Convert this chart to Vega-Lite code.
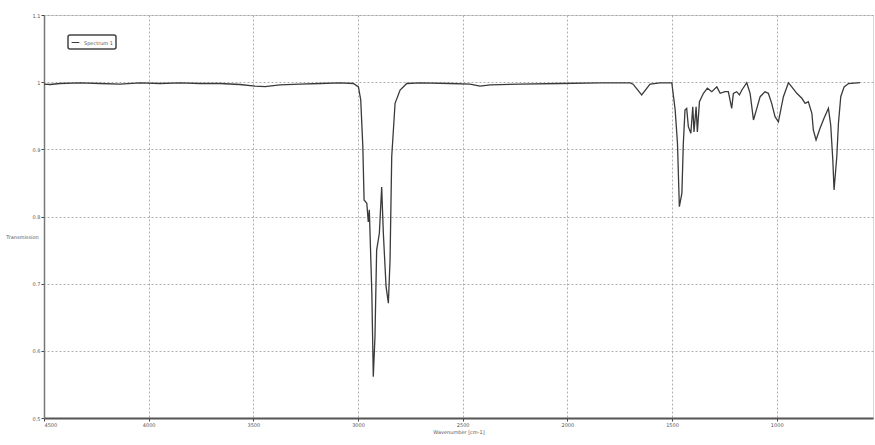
{
  "$schema": "https://vega.github.io/schema/vega-lite/v6.json",
  "width": 829,
  "height": 403,
  "autosize": {"type": "none"},
  "padding": {"left": 44, "top": 15, "right": 2, "bottom": 27},
  "background": "white",
  "config": {
    "view": {"stroke": "#d8d8d8", "strokeWidth": 1},
    "font": "DejaVu Sans"
  },
  "data": {
    "values": [
      {"wn": 4500, "t": 0.997, "s": "Spectrum 1"},
      {"wn": 4471, "t": 0.9965, "s": "Spectrum 1"},
      {"wn": 4424, "t": 0.998, "s": "Spectrum 1"},
      {"wn": 4328, "t": 0.999, "s": "Spectrum 1"},
      {"wn": 4232, "t": 0.998, "s": "Spectrum 1"},
      {"wn": 4137, "t": 0.997, "s": "Spectrum 1"},
      {"wn": 4041, "t": 0.999, "s": "Spectrum 1"},
      {"wn": 3946, "t": 0.998, "s": "Spectrum 1"},
      {"wn": 3850, "t": 0.999, "s": "Spectrum 1"},
      {"wn": 3755, "t": 0.998, "s": "Spectrum 1"},
      {"wn": 3659, "t": 0.998, "s": "Spectrum 1"},
      {"wn": 3564, "t": 0.9965, "s": "Spectrum 1"},
      {"wn": 3492, "t": 0.994, "s": "Spectrum 1"},
      {"wn": 3444, "t": 0.9935, "s": "Spectrum 1"},
      {"wn": 3373, "t": 0.996, "s": "Spectrum 1"},
      {"wn": 3277, "t": 0.997, "s": "Spectrum 1"},
      {"wn": 3181, "t": 0.998, "s": "Spectrum 1"},
      {"wn": 3086, "t": 0.999, "s": "Spectrum 1"},
      {"wn": 3022, "t": 0.998, "s": "Spectrum 1"},
      {"wn": 2998, "t": 0.993, "s": "Spectrum 1"},
      {"wn": 2987, "t": 0.9735, "s": "Spectrum 1"},
      {"wn": 2977, "t": 0.904, "s": "Spectrum 1"},
      {"wn": 2971, "t": 0.8246, "s": "Spectrum 1"},
      {"wn": 2958, "t": 0.8197, "s": "Spectrum 1"},
      {"wn": 2951, "t": 0.792, "s": "Spectrum 1"},
      {"wn": 2946, "t": 0.81, "s": "Spectrum 1"},
      {"wn": 2934, "t": 0.686, "s": "Spectrum 1"},
      {"wn": 2927, "t": 0.5615, "s": "Spectrum 1"},
      {"wn": 2919, "t": 0.621, "s": "Spectrum 1"},
      {"wn": 2911, "t": 0.75, "s": "Spectrum 1"},
      {"wn": 2898, "t": 0.775, "s": "Spectrum 1"},
      {"wn": 2887, "t": 0.844, "s": "Spectrum 1"},
      {"wn": 2879, "t": 0.775, "s": "Spectrum 1"},
      {"wn": 2866, "t": 0.6955, "s": "Spectrum 1"},
      {"wn": 2855, "t": 0.671, "s": "Spectrum 1"},
      {"wn": 2847, "t": 0.735, "s": "Spectrum 1"},
      {"wn": 2839, "t": 0.889, "s": "Spectrum 1"},
      {"wn": 2823, "t": 0.9685, "s": "Spectrum 1"},
      {"wn": 2799, "t": 0.9883, "s": "Spectrum 1"},
      {"wn": 2767, "t": 0.998, "s": "Spectrum 1"},
      {"wn": 2704, "t": 0.999, "s": "Spectrum 1"},
      {"wn": 2560, "t": 0.998, "s": "Spectrum 1"},
      {"wn": 2465, "t": 0.997, "s": "Spectrum 1"},
      {"wn": 2417, "t": 0.994, "s": "Spectrum 1"},
      {"wn": 2369, "t": 0.996, "s": "Spectrum 1"},
      {"wn": 2226, "t": 0.997, "s": "Spectrum 1"},
      {"wn": 2035, "t": 0.998, "s": "Spectrum 1"},
      {"wn": 1844, "t": 0.999, "s": "Spectrum 1"},
      {"wn": 1700, "t": 0.999, "s": "Spectrum 1"},
      {"wn": 1686, "t": 0.997, "s": "Spectrum 1"},
      {"wn": 1645, "t": 0.981, "s": "Spectrum 1"},
      {"wn": 1605, "t": 0.997, "s": "Spectrum 1"},
      {"wn": 1557, "t": 0.999, "s": "Spectrum 1"},
      {"wn": 1501, "t": 0.999, "s": "Spectrum 1"},
      {"wn": 1485, "t": 0.9586, "s": "Spectrum 1"},
      {"wn": 1474, "t": 0.909, "s": "Spectrum 1"},
      {"wn": 1465, "t": 0.8146, "s": "Spectrum 1"},
      {"wn": 1453, "t": 0.8345, "s": "Spectrum 1"},
      {"wn": 1446, "t": 0.909, "s": "Spectrum 1"},
      {"wn": 1438, "t": 0.9586, "s": "Spectrum 1"},
      {"wn": 1430, "t": 0.961, "s": "Spectrum 1"},
      {"wn": 1422, "t": 0.9337, "s": "Spectrum 1"},
      {"wn": 1410, "t": 0.924, "s": "Spectrum 1"},
      {"wn": 1401, "t": 0.9635, "s": "Spectrum 1"},
      {"wn": 1395, "t": 0.926, "s": "Spectrum 1"},
      {"wn": 1385, "t": 0.9635, "s": "Spectrum 1"},
      {"wn": 1379, "t": 0.926, "s": "Spectrum 1"},
      {"wn": 1369, "t": 0.971, "s": "Spectrum 1"},
      {"wn": 1350, "t": 0.9834, "s": "Spectrum 1"},
      {"wn": 1331, "t": 0.991, "s": "Spectrum 1"},
      {"wn": 1310, "t": 0.9858, "s": "Spectrum 1"},
      {"wn": 1286, "t": 0.993, "s": "Spectrum 1"},
      {"wn": 1270, "t": 0.9834, "s": "Spectrum 1"},
      {"wn": 1247, "t": 0.9858, "s": "Spectrum 1"},
      {"wn": 1231, "t": 0.9858, "s": "Spectrum 1"},
      {"wn": 1215, "t": 0.961, "s": "Spectrum 1"},
      {"wn": 1207, "t": 0.9834, "s": "Spectrum 1"},
      {"wn": 1191, "t": 0.9858, "s": "Spectrum 1"},
      {"wn": 1178, "t": 0.981, "s": "Spectrum 1"},
      {"wn": 1167, "t": 0.988, "s": "Spectrum 1"},
      {"wn": 1143, "t": 0.9992, "s": "Spectrum 1"},
      {"wn": 1127, "t": 0.9834, "s": "Spectrum 1"},
      {"wn": 1111, "t": 0.9437, "s": "Spectrum 1"},
      {"wn": 1095, "t": 0.961, "s": "Spectrum 1"},
      {"wn": 1079, "t": 0.9784, "s": "Spectrum 1"},
      {"wn": 1056, "t": 0.9858, "s": "Spectrum 1"},
      {"wn": 1040, "t": 0.9834, "s": "Spectrum 1"},
      {"wn": 1024, "t": 0.9685, "s": "Spectrum 1"},
      {"wn": 1008, "t": 0.9486, "s": "Spectrum 1"},
      {"wn": 992, "t": 0.941, "s": "Spectrum 1"},
      {"wn": 968, "t": 0.9784, "s": "Spectrum 1"},
      {"wn": 944, "t": 0.9992, "s": "Spectrum 1"},
      {"wn": 928, "t": 0.993, "s": "Spectrum 1"},
      {"wn": 904, "t": 0.9834, "s": "Spectrum 1"},
      {"wn": 880, "t": 0.976, "s": "Spectrum 1"},
      {"wn": 864, "t": 0.9685, "s": "Spectrum 1"},
      {"wn": 849, "t": 0.971, "s": "Spectrum 1"},
      {"wn": 832, "t": 0.9537, "s": "Spectrum 1"},
      {"wn": 825, "t": 0.9288, "s": "Spectrum 1"},
      {"wn": 812, "t": 0.9139, "s": "Spectrum 1"},
      {"wn": 793, "t": 0.9313, "s": "Spectrum 1"},
      {"wn": 774, "t": 0.9462, "s": "Spectrum 1"},
      {"wn": 753, "t": 0.961, "s": "Spectrum 1"},
      {"wn": 742, "t": 0.9362, "s": "Spectrum 1"},
      {"wn": 732, "t": 0.8841, "s": "Spectrum 1"},
      {"wn": 726, "t": 0.8395, "s": "Spectrum 1"},
      {"wn": 713, "t": 0.889, "s": "Spectrum 1"},
      {"wn": 705, "t": 0.9388, "s": "Spectrum 1"},
      {"wn": 694, "t": 0.9784, "s": "Spectrum 1"},
      {"wn": 678, "t": 0.993, "s": "Spectrum 1"},
      {"wn": 657, "t": 0.998, "s": "Spectrum 1"},
      {"wn": 602, "t": 0.9992, "s": "Spectrum 1"}
    ]
  },
  "mark": {"type": "line", "strokeWidth": 1.3, "interpolate": "linear"},
  "encoding": {
    "x": {
      "field": "wn",
      "type": "quantitative",
      "sort": null,
      "scale": {"domain": [540, 4500], "reverse": true, "nice": false, "zero": false},
      "axis": {
        "values": [4500, 4000, 3500, 3000, 2500, 2000, 1500, 1000],
        "format": "d",
        "title": "Wavenumber [cm-1]",
        "titleFontSize": 5,
        "titleFontWeight": "normal",
        "titleColor": "#555",
        "titlePadding": 2,
        "labelFontSize": 5,
        "labelColor": "#555",
        "labelPadding": 1,
        "tickSize": 3,
        "tickColor": "#444",
        "domainColor": "#555",
        "domainWidth": 2,
        "grid": true,
        "gridColor": "#9a9a9a",
        "gridDash": [2, 2],
        "gridWidth": 0.8
      }
    },
    "y": {
      "field": "t",
      "type": "quantitative",
      "scale": {"domain": [0.5, 1.1], "nice": false, "zero": false},
      "axis": {
        "values": [0.5, 0.6, 0.7, 0.8, 0.9, 1.0, 1.1],
        "labelExpr": "datum.value == 1 ? '1' : format(datum.value, '.1f')",
        "title": "Transmission",
        "titleAngle": 0,
        "titleAlign": "center",
        "titleBaseline": "middle",
        "titleX": -22,
        "titleY": 221,
        "titleFontSize": 5,
        "titleFontWeight": "normal",
        "titleColor": "#555",
        "labelFontSize": 5,
        "labelColor": "#555",
        "labelPadding": 1,
        "tickSize": 3,
        "tickColor": "#444",
        "domainColor": "#777",
        "domainWidth": 1.5,
        "grid": true,
        "gridColor": "#9a9a9a",
        "gridDash": [2, 2],
        "gridWidth": 0.8
      }
    },
    "color": {
      "field": "s",
      "type": "nominal",
      "scale": {"range": ["#3a3a3a"]},
      "legend": {
        "title": null,
        "orient": "none",
        "legendX": 24,
        "legendY": 20,
        "symbolType": "stroke",
        "symbolSize": 60,
        "symbolStrokeWidth": 1,
        "labelFontSize": 5,
        "labelColor": "#555",
        "strokeColor": "#444",
        "padding": 3,
        "cornerRadius": 2,
        "fillColor": "white",
        "encode": {"legend": {"update": {"strokeWidth": {"value": 1.5}}}}
      }
    }
  }
}
